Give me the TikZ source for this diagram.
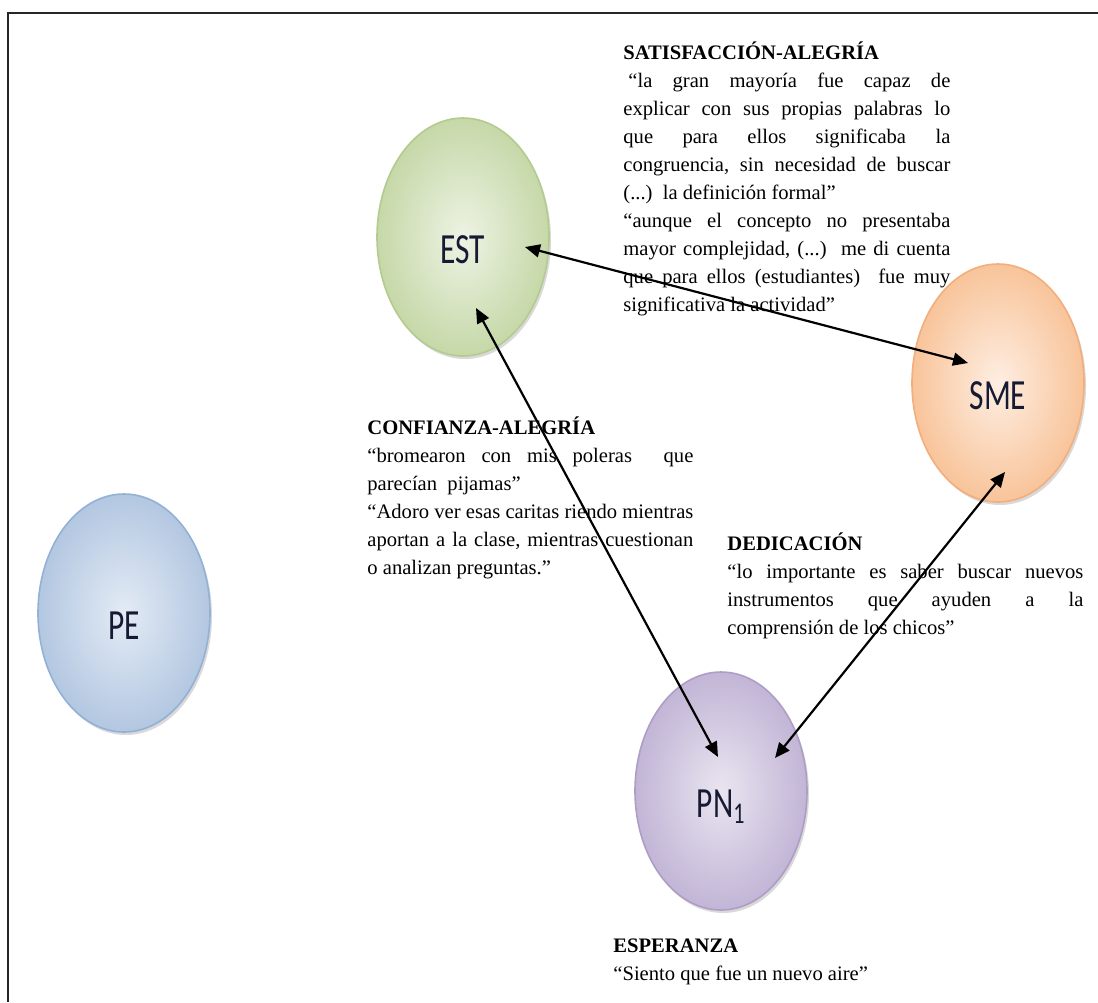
\documentclass[tikz,border=0pt]{standalone}
\usepackage{fontspec}
\setmainfont{Liberation Serif}
\newfontfamily\calibri{Carlito}
\usetikzlibrary{arrows.meta}
\usetikzlibrary{shapes.geometric}
\usetikzlibrary{shadows}
\usetikzlibrary{positioning}
\setlength{\parindent}{0pt}
\definecolor{estin}{HTML}{EDF3E4}
\definecolor{estout}{HTML}{C6D8A8}
\definecolor{estline}{HTML}{B4CB8F}
\definecolor{smein}{HTML}{FEEEE2}
\definecolor{smeout}{HTML}{F8C49A}
\definecolor{smeline}{HTML}{F2AE7C}
\definecolor{pein}{HTML}{E3EBF5}
\definecolor{peout}{HTML}{B3C7E1}
\definecolor{peline}{HTML}{93B1D6}
\definecolor{pnin}{HTML}{E9E5F0}
\definecolor{pnout}{HTML}{C2B5D6}
\definecolor{pnline}{HTML}{AE9EC6}
\definecolor{lbl}{HTML}{161B33}

\begin{document}
\begin{tikzpicture}[x=0.5pt,y=-0.5pt,
                    >={Triangle[length=7.5pt,width=6.5pt]},
                    ell/.style={ellipse,minimum width=86pt,minimum height=119pt,
                                inner sep=0pt,line width=0.8pt,
                                text height=27pt,text depth=1pt,text=lbl,
                                font=\calibri\fontsize{21.5}{24}\selectfont,
                                drop shadow={shadow xshift=1pt,shadow yshift=-1.5pt,opacity=0.3}},
                    quote/.style={anchor=north west,inner sep=0pt,text width=#1,align=justify,
                                  font=\fontsize{10.3}{14}\selectfont\frenchspacing},
                    link/.style={<->,line width=1.1pt}
                    ]
  \useasboundingbox (0,0) rectangle (1098,1002);
  \draw[line width=0.8pt,black!85] (1098,13) -- (8,13) -- (8,1002);

  \node[ell,draw=estline,inner color=estin,outer color=estout] (est) at (463,237) {\scalebox{.73}[1]{EST}};
  \node[ell,draw=smeline,inner color=smein,outer color=smeout] (sme) at (998,383) {\scalebox{.73}[1]{SME}};
  \node[ell,draw=peline,inner color=pein,outer color=peout] (pe) at (124,613) {\scalebox{.73}[1]{PE}};
  \node[ell,draw=pnline,inner color=pnin,outer color=pnout] (pn) at (721,791) {\scalebox{.73}[1]{PN\textsubscript{1}}};

  \node[quote=163.5pt] (satq) at (623,39) {\strut\textbf{SATISFACCIÓN-ALEGRÍA}\\
    \hspace*{2.5pt}“la gran mayoría fue capaz de\linebreak
    explicar con sus propias palabras lo\linebreak
    que para ellos significaba la\linebreak
    congruencia, sin necesidad de buscar\linebreak
    (...)\ \ la definición formal”\\
    “aunque el concepto no presentaba\linebreak
    mayor complejidad, (...)\ \ me di cuenta\linebreak
    que para ellos (estudiantes)\ \ fue muy\linebreak
    significativa la actividad”};
  \node[quote=163pt] (confq) at (367,414) {\strut\textbf{CONFIANZA-ALEGRÍA}\\
    “bromearon con mis poleras\ \ que\linebreak
    parecían\ \ pijamas”\\
    “Adoro ver esas caritas riendo mientras\linebreak
    aportan a la clase, mientras cuestionan\linebreak
    o analizan preguntas.”};
  \node[quote=178pt] (dedq) at (727,530) {\strut\textbf{DEDICACIÓN}\\
    “lo importante es saber buscar nuevos\linebreak
    instrumentos que ayuden a la\linebreak
    comprensión de los chicos”};
  \node[quote=150pt] (espq) at (613,932) {\strut\textbf{ESPERANZA}\\
    “Siento que fue un nuevo aire”};

  \coordinate (estE) at ([shift={(62,10)}]est.center);
  \coordinate (estS) at ([shift={(13,71)}]est.center);
  \coordinate (smeW) at ([shift={(-30,-20)}]sme.center);
  \coordinate (smeS) at ([shift={(7,89)}]sme.center);
  \coordinate (pnL) at ([shift={(-3,-34)}]pn.center);
  \coordinate (pnR) at ([shift={(54,-33)}]pn.center);
  \draw[link] (estE) -- (smeW);
  \draw[link] (estS) -- (pnL);
  \draw[link] (pnR) -- (smeS);
\end{tikzpicture}
\end{document}
